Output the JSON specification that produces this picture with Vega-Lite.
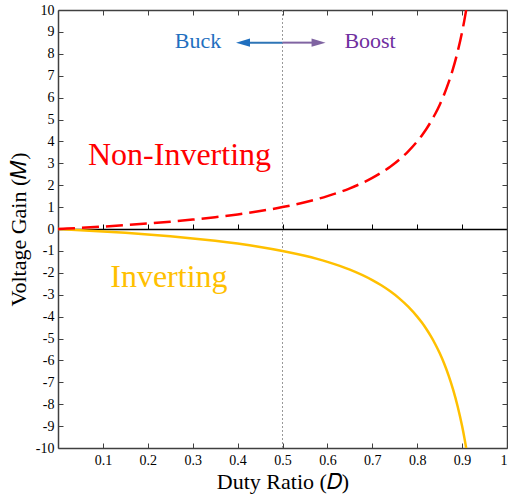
{
  "$schema": "https://vega.github.io/schema/vega-lite/v6.json",
  "width": 449,
  "height": 438,
  "autosize": {"type": "none"},
  "padding": {"left": 58, "top": 10, "right": 1, "bottom": 49},
  "background": "white",
  "config": {
    "view": {"stroke": null},
    "font": "Liberation Serif"
  },
  "datasets": {
    "noninv": [
      {"D": 0.0, "M": 0}, {"D": 0.02, "M": 0.0204}, {"D": 0.05, "M": 0.0526}, {"D": 0.1, "M": 0.1111},
      {"D": 0.15, "M": 0.1765}, {"D": 0.2, "M": 0.25}, {"D": 0.25, "M": 0.3333}, {"D": 0.3, "M": 0.4286},
      {"D": 0.35, "M": 0.5385}, {"D": 0.4, "M": 0.6667}, {"D": 0.45, "M": 0.8182}, {"D": 0.5, "M": 1},
      {"D": 0.55, "M": 1.2222}, {"D": 0.6, "M": 1.5}, {"D": 0.65, "M": 1.8571}, {"D": 0.7, "M": 2.3333},
      {"D": 0.72, "M": 2.5714}, {"D": 0.74, "M": 2.8462}, {"D": 0.76, "M": 3.1667}, {"D": 0.78, "M": 3.5455},
      {"D": 0.8, "M": 4}, {"D": 0.81, "M": 4.2632}, {"D": 0.82, "M": 4.5556}, {"D": 0.83, "M": 4.8824},
      {"D": 0.84, "M": 5.25}, {"D": 0.85, "M": 5.6667}, {"D": 0.86, "M": 6.1429}, {"D": 0.87, "M": 6.6923},
      {"D": 0.88, "M": 7.3333}, {"D": 0.89, "M": 8.0909}, {"D": 0.9, "M": 9}, {"D": 0.905, "M": 9.5263},
      {"D": 0.9091, "M": 10}
    ],
    "inv": [
      {"D": 0.0, "M": 0}, {"D": 0.02, "M": -0.0204}, {"D": 0.05, "M": -0.0526}, {"D": 0.1, "M": -0.1111},
      {"D": 0.15, "M": -0.1765}, {"D": 0.2, "M": -0.25}, {"D": 0.25, "M": -0.3333}, {"D": 0.3, "M": -0.4286},
      {"D": 0.35, "M": -0.5385}, {"D": 0.4, "M": -0.6667}, {"D": 0.45, "M": -0.8182}, {"D": 0.5, "M": -1},
      {"D": 0.55, "M": -1.2222}, {"D": 0.6, "M": -1.5}, {"D": 0.65, "M": -1.8571}, {"D": 0.7, "M": -2.3333},
      {"D": 0.72, "M": -2.5714}, {"D": 0.74, "M": -2.8462}, {"D": 0.76, "M": -3.1667}, {"D": 0.78, "M": -3.5455},
      {"D": 0.8, "M": -4}, {"D": 0.81, "M": -4.2632}, {"D": 0.82, "M": -4.5556}, {"D": 0.83, "M": -4.8824},
      {"D": 0.84, "M": -5.25}, {"D": 0.85, "M": -5.6667}, {"D": 0.86, "M": -6.1429}, {"D": 0.87, "M": -6.6923},
      {"D": 0.88, "M": -7.3333}, {"D": 0.89, "M": -8.0909}, {"D": 0.9, "M": -9}, {"D": 0.905, "M": -9.5263},
      {"D": 0.9091, "M": -10}
    ]
  },
  "layer": [
    {
      "data": {"values": [{"D": 0.5}]},
      "mark": {"type": "rule", "color": "#999999", "strokeDash": [2, 2], "strokeWidth": 1},
      "encoding": {
        "x": {"field": "D", "type": "quantitative", "scale": {"domain": [0, 1], "nice": false, "zero": false},
          "axis": {"orient": "bottom", "values": [0.1, 0.2, 0.3, 0.4, 0.5, 0.6, 0.7, 0.8, 0.9, 1], "format": "~g",
            "tickSize": -5, "labelPadding": 10, "title": "Duty Ratio (𝐷)", "titlePadding": 4,
            "labelFont": "Liberation Serif", "labelFontSize": 14, "labelColor": "black",
            "titleFont": "Liberation Serif", "titleFontSize": 22, "titleFontWeight": "normal", "titleColor": "black",
            "domainColor": "#404040", "domainWidth": 1.5, "tickColor": "#404040", "tickWidth": 1, "grid": false}}
      }
    },
    {
      "data": {"name": "inv"},
      "mark": {"type": "line", "color": "#FFC000", "strokeWidth": 2.5, "clip": true, "interpolate": "monotone"},
      "encoding": {
        "x": {"field": "D", "type": "quantitative", "scale": {"domain": [0, 1], "nice": false},
          "axis": {"orient": "top", "values": [0.1, 0.2, 0.3, 0.4, 0.5, 0.6, 0.7, 0.8, 0.9], "tickSize": -5, "labels": false, "title": null,
            "domainColor": "#404040", "domainWidth": 1.5, "tickColor": "#404040", "tickWidth": 1, "grid": false}},
        "y": {"field": "M", "type": "quantitative", "scale": {"domain": [-10, 10], "nice": false, "zero": false},
          "axis": {"orient": "left", "values": [-10, -9, -8, -7, -6, -5, -4, -3, -2, -1, 0, 1, 2, 3, 4, 5, 6, 7, 8, 9, 10],
            "labelExpr": "datum.value < 0 ? '-' + abs(datum.value) : '' + datum.value",
            "tickSize": -5, "labelPadding": 9, "title": "Voltage Gain (𝑀)", "titlePadding": 5,
            "labelFont": "Liberation Serif", "labelFontSize": 14, "labelColor": "black",
            "titleFont": "Liberation Serif", "titleFontSize": 22, "titleFontWeight": "normal", "titleColor": "black",
            "domainColor": "#404040", "domainWidth": 1.5, "tickColor": "#404040", "tickWidth": 1, "grid": false}}
      }
    },
    {
      "data": {"name": "noninv"},
      "mark": {"type": "line", "color": "#FF0000", "strokeWidth": 2.5, "strokeDash": [17, 7], "clip": true, "interpolate": "monotone"},
      "encoding": {
        "x": {"field": "D", "type": "quantitative", "scale": {"domain": [0, 1], "nice": false},
          "axis": {"orient": "top", "offset": -219, "values": [0.1, 0.2, 0.3, 0.4, 0.5, 0.6, 0.7, 0.8, 0.9], "tickSize": 5,
            "labels": false, "title": null, "domainColor": "black", "domainWidth": 1.5, "tickColor": "black", "tickWidth": 1, "grid": false}},
        "y": {"field": "M", "type": "quantitative", "scale": {"domain": [-10, 10], "nice": false},
          "axis": {"orient": "right", "values": [-9, -8, -7, -6, -5, -4, -3, -2, -1, 1, 2, 3, 4, 5, 6, 7, 8, 9],
            "tickSize": -5, "labels": false, "title": null,
            "domainColor": "#404040", "domainWidth": 1.5, "tickColor": "#404040", "tickWidth": 1, "grid": false}}
      }
    },
    {
      "data": {"values": [{"D0": 0.5, "D1": 0.425, "M": 8.51}]},
      "mark": {"type": "rule", "color": "#2E75B6", "strokeWidth": 2},
      "encoding": {
        "x": {"field": "D0", "type": "quantitative", "axis": null},
        "x2": {"field": "D1"},
        "y": {"field": "M", "type": "quantitative", "axis": null}
      }
    },
    {
      "data": {"values": [{"D0": 0.5, "D1": 0.57, "M": 8.51}]},
      "mark": {"type": "rule", "color": "#8064A2", "strokeWidth": 2},
      "encoding": {
        "x": {"field": "D0", "type": "quantitative", "axis": null},
        "x2": {"field": "D1"},
        "y": {"field": "M", "type": "quantitative", "axis": null}
      }
    },
    {
      "data": {"values": [{"D": 0.412, "M": 8.51}]},
      "mark": {"type": "point", "filled": true, "opacity": 1, "color": "#1F6FBF", "size": 196, "shape": "M-1,0L1,-0.6L1,0.6Z"},
      "encoding": {
        "x": {"field": "D", "type": "quantitative", "axis": null},
        "y": {"field": "M", "type": "quantitative", "axis": null}
      }
    },
    {
      "data": {"values": [{"D": 0.5803, "M": 8.51}]},
      "mark": {"type": "point", "filled": true, "opacity": 1, "color": "#7F63A1", "size": 196, "shape": "M1,0L-1,-0.6L-1,0.6Z"},
      "encoding": {
        "x": {"field": "D", "type": "quantitative", "axis": null},
        "y": {"field": "M", "type": "quantitative", "axis": null}
      }
    },
    {
      "data": {"values": [{"D": 0.312, "M": 8.25, "label": "Buck"}]},
      "mark": {"type": "text", "color": "#1F6FBF", "fontSize": 22, "font": "Liberation Serif", "baseline": "alphabetic", "align": "center"},
      "encoding": {
        "x": {"field": "D", "type": "quantitative", "axis": null},
        "y": {"field": "M", "type": "quantitative", "axis": null},
        "text": {"field": "label"}
      }
    },
    {
      "data": {"values": [{"D": 0.695, "M": 8.25, "label": "Boost"}]},
      "mark": {"type": "text", "color": "#7030A0", "fontSize": 22, "font": "Liberation Serif", "baseline": "alphabetic", "align": "center"},
      "encoding": {
        "x": {"field": "D", "type": "quantitative", "axis": null},
        "y": {"field": "M", "type": "quantitative", "axis": null},
        "text": {"field": "label"}
      }
    },
    {
      "data": {"values": [{"D": 0.2706, "M": 2.92, "label": "Non-Inverting"}]},
      "mark": {"type": "text", "color": "#FF0000", "fontSize": 32, "font": "Liberation Serif", "baseline": "alphabetic", "align": "center"},
      "encoding": {
        "x": {"field": "D", "type": "quantitative", "axis": null},
        "y": {"field": "M", "type": "quantitative", "axis": null},
        "text": {"field": "label"}
      }
    },
    {
      "data": {"values": [{"D": 0.247, "M": -2.63, "label": "Inverting"}]},
      "mark": {"type": "text", "color": "#FFC000", "fontSize": 32, "font": "Liberation Serif", "baseline": "alphabetic", "align": "center"},
      "encoding": {
        "x": {"field": "D", "type": "quantitative", "axis": null},
        "y": {"field": "M", "type": "quantitative", "axis": null},
        "text": {"field": "label"}
      }
    }
  ],
  "resolve": {"axis": {"x": "independent", "y": "independent"}}
}
